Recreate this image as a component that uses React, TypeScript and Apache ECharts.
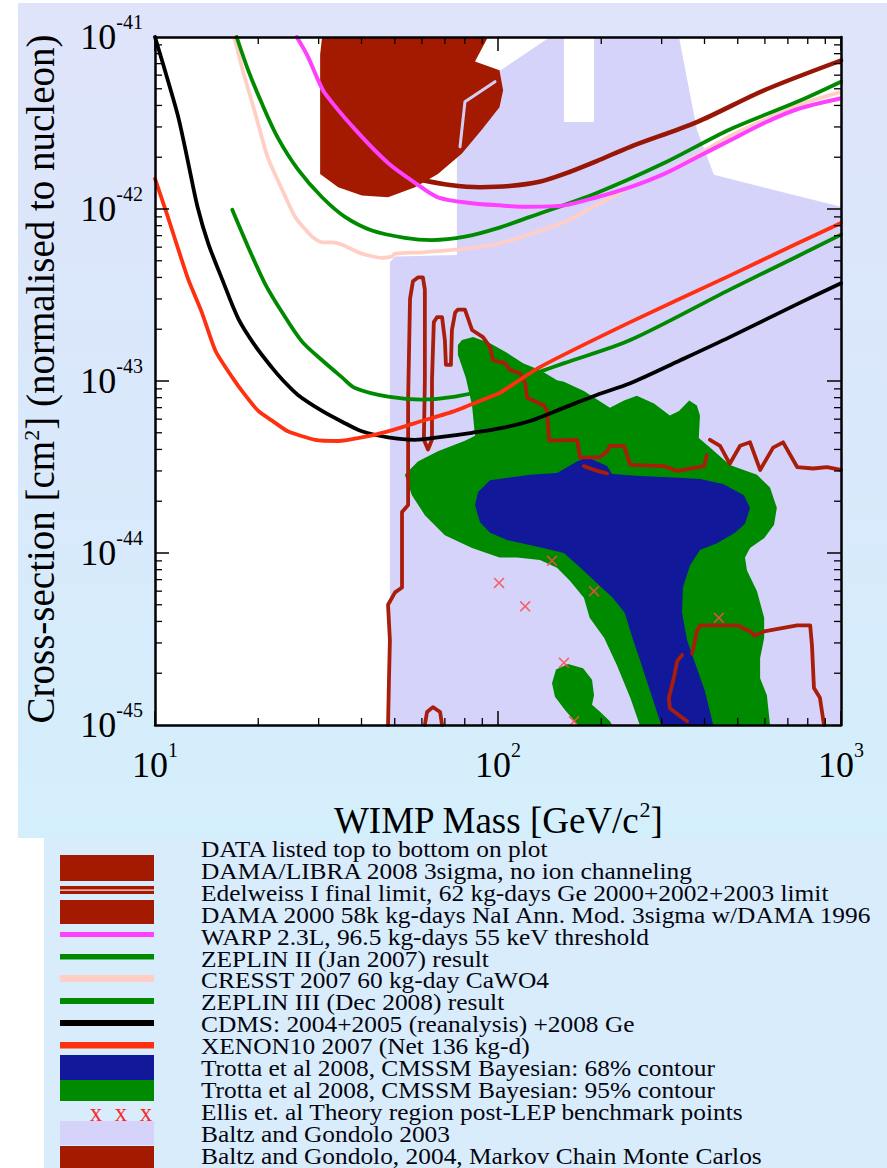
import React, { useEffect, useRef } from "react";
import * as echarts from "echarts";

type P = [number, number];

// ---------- axis ticks ----------
const yMajorTicks = [1e-45, 1e-44, 1e-43, 1e-42, 1e-41];
const xMinorTicks = [20, 30, 40, 50, 60, 70, 80, 90, 200, 300, 400, 500, 600, 700, 800, 900];
const yMinorTicks = [
  2e-45, 3e-45, 4e-45, 5e-45, 6e-45, 7e-45, 8e-45, 9e-45,
  2e-44, 3e-44, 4e-44, 5e-44, 6e-44, 7e-44, 8e-44, 9e-44,
  2e-43, 3e-43, 4e-43, 5e-43, 6e-43, 7e-43, 8e-43, 9e-43,
  2e-42, 3e-42, 4e-42, 5e-42, 6e-42, 7e-42, 8e-42, 9e-42,
];

// ---------- regions ----------
const baltz2003Region: P[] = [
  [48.4, 1e-45], [48.4, 4.9e-43], [50.1, 5.3e-43], [75.9, 5.4e-43], [75.9, 4.3e-42],
  [88.6, 5.6e-42], [99.4, 6.2e-42], [141.8, 1e-41], [155.7, 1e-41], [155.7, 3.2e-42],
  [190.5, 3.2e-42], [190.5, 1e-41], [337, 1e-41], [380, 2.9e-42], [426, 1.58e-42],
  [1000, 1.03e-42], [1000, 1e-45],
];
const damaLibraRegion: P[] = [
  [30.7, 1e-41], [93.5, 1e-41], [85.7, 7.2e-42], [101, 6.4e-42], [103.5, 4.9e-42],
  [101, 3.9e-42], [89.8, 2.9e-42], [78.5, 2.1e-42], [66.8, 1.6e-42], [57.3, 1.34e-42],
  [47.8, 1.17e-42], [40.1, 1.2e-42], [34.2, 1.34e-42], [30.3, 1.6e-42], [30.3, 7.9e-42],
];
const damaGapLine: P[] = [[98, 5.5e-42], [80.1, 4.2e-42], [77.5, 2.3e-42]];

const trotta95Region: P[] = [
  [76.4, 1.62e-43], [78.5, 1.73e-43], [84.6, 1.8e-43], [94.8, 1.66e-43], [106.2, 1.46e-43],
  [118.3, 1.27e-43], [132.5, 1.16e-43], [148.6, 1.01e-43], [155.7, 9.9e-44], [178, 8.75e-44],
  [212, 7.0e-44], [233, 7.7e-44], [254, 8.2e-44], [285, 7.4e-44], [317, 6.3e-44],
  [337, 6.7e-44], [361, 7.7e-44], [380, 7.2e-44], [388, 6.3e-44], [385, 4.67e-44],
  [415, 4.1e-44], [474, 3.25e-44], [569, 2.85e-44], [621, 2.4e-44], [650, 1.83e-44],
  [638, 1.46e-44], [597, 1.22e-44], [543, 1.07e-44], [525, 9.4e-45], [532, 7.9e-45],
  [569, 6.0e-45], [597, 4.2e-45], [597, 3.2e-45], [581, 2.45e-45], [581, 1.87e-45],
  [608, 1.49e-45], [621, 1e-45], [259, 1e-45], [243, 1.44e-45], [222, 2.23e-45],
  [204, 3.2e-45], [185, 4.2e-45], [178, 5.5e-45], [162, 6.9e-45], [148.6, 8.2e-45],
  [132.5, 9.1e-45], [113.6, 9.4e-45], [101, 9.4e-45], [84, 1.07e-44], [70, 1.27e-44],
  [61.2, 1.66e-44], [56.1, 2.17e-44], [53.5, 2.85e-44], [58.4, 3.4e-44], [66.8, 3.9e-44],
  [80.1, 4.5e-44], [85.7, 4.8e-44], [84, 7.2e-44], [80.6, 1.04e-43], [76.4, 1.42e-43],
];
const trotta95Island: P[] = [
  [143.7, 1.75e-45], [147.6, 2.1e-45], [160, 2.26e-45], [177, 2.14e-45], [188, 1.83e-45],
  [190.5, 1.49e-45], [188, 1.31e-45], [198, 1.2e-45], [212, 1.05e-45], [215, 1e-45],
  [171, 1e-45], [157, 1.22e-45], [146.6, 1.46e-45],
];
const trotta68Region: P[] = [
  [85.7, 1.9e-44], [87.5, 2.26e-44], [94.8, 2.65e-44], [124, 2.85e-44], [148.6, 2.92e-44],
  [170, 3.4e-44], [182, 3.6e-44], [208, 3.2e-44], [215, 2.88e-44], [259, 2.8e-44],
  [324, 2.75e-44], [388, 2.69e-44], [453, 2.52e-44], [521, 2.17e-44], [543, 1.83e-44],
  [525, 1.48e-44], [491, 1.31e-44], [435, 1.14e-44], [388, 1.04e-44], [363, 8.5e-45],
  [346, 6.3e-45], [344, 4.5e-45], [356, 3.1e-45], [380, 2.14e-45], [401, 1.58e-45],
  [424, 1e-45], [299, 1e-45], [277, 1.6e-45], [259, 2.4e-45], [248, 3.1e-45],
  [234, 4.5e-45], [216, 5.5e-45], [194, 6.7e-45], [173, 8.3e-45], [155.7, 1e-44],
  [132.5, 1.08e-44], [106.2, 1.19e-44], [94.8, 1.31e-44], [88.6, 1.51e-44],
];

// ---------- Baltz & Gondolo 2004 MCMC contour pieces ----------
const baltz2004A: P[] = [
  [47.8, 1e-45], [48.1, 1.83e-45], [48.4, 3.1e-45], [47.8, 5.0e-45], [50.1, 5.9e-45],
  [52.5, 6.3e-45], [52.5, 1.73e-44], [54.7, 1.9e-44], [54.7, 7.8e-44], [55.4, 3.0e-43],
  [56.5, 3.8e-43], [58.4, 4.0e-43], [60.4, 4.0e-43], [61.2, 3.4e-43], [61.2, 1.01e-43],
  [60.8, 4.55e-44], [62.5, 4.0e-44], [64.2, 4.55e-44], [64.2, 1.01e-43], [65.0, 2.2e-43],
  [66.4, 2.35e-43], [68.7, 2.35e-43], [70.0, 1.73e-43], [70.5, 1.24e-43], [72.9, 1.24e-43],
  [73.4, 1.98e-43], [75.0, 2.5e-43], [76.4, 2.6e-43], [80.1, 2.6e-43], [84.0, 1.98e-43],
  [90.4, 1.8e-43], [94.8, 1.58e-43], [96.6, 1.32e-43], [104.8, 1.27e-43], [108.4, 1.16e-43],
  [115.9, 1.11e-43], [120, 9.7e-44], [121.6, 8.0e-44], [136.2, 7.2e-44], [139, 6.7e-44],
  [140.9, 4.5e-44], [170, 4.55e-44], [173.4, 3.6e-44], [198, 3.6e-44], [208, 3.9e-44],
  [212, 4.2e-44], [233, 4.2e-44], [243, 3.25e-44], [305, 3.2e-44], [333, 3.0e-44],
  [399, 3.2e-44], [406, 3.7e-44],
];
const baltz2004B: P[] = [
  [415, 4.55e-44], [444, 4.2e-44], [474, 3.3e-44], [508, 4.2e-44], [543, 4.4e-44],
  [581, 3.04e-44], [634, 4.1e-44], [678, 4.4e-44], [745, 3.16e-44], [829, 3.1e-44],
  [910, 3.16e-44], [1000, 3.04e-44],
];
const baltz2004C: P[] = [[178, 3.2e-44], [195, 3.0e-44], [208, 2.9e-44]];
const baltz2004D: P[] = [
  [344, 2.55e-45], [333, 2.35e-45], [326, 1.9e-45], [315, 1.44e-45], [317, 1.25e-45],
  [337, 1.14e-45], [356, 1.05e-45],
];
const baltz2004E: P[] = [
  [368, 2.6e-45], [380, 3.5e-45], [388, 3.8e-45], [435, 3.8e-45], [497, 3.8e-45],
  [543, 3.5e-45], [561, 3.3e-45], [597, 3.5e-45], [745, 3.8e-45], [813, 3.8e-45],
  [823, 2.9e-45], [834, 1.64e-45], [868, 1.44e-45], [892, 1e-45],
];
const baltz2004G: P[] = [[61.2, 1e-45], [62.1, 1.19e-45], [64.6, 1.27e-45], [67.8, 1.19e-45], [68.7, 1e-45]];

// ---------- exclusion limits ----------
const edelweissLimit: P[] = [
  [59.3, 1.48e-42], [72.4, 1.38e-42], [88.6, 1.34e-42], [108, 1.36e-42], [132, 1.44e-42],
  [156, 1.6e-42], [194, 1.9e-42], [243, 2.3e-42], [380, 3.2e-42], [597, 4.9e-42], [1000, 7.3e-42],
];
const warpLimit: P[] = [
  [25.9, 1e-41], [27.9, 7.7e-42], [29.9, 5.6e-42], [31.3, 4.7e-42], [38.3, 2.9e-42],
  [47.8, 1.85e-42], [57.3, 1.42e-42], [66.8, 1.17e-42], [84, 1.08e-42], [101, 1.05e-42],
  [124, 1.03e-42], [156, 1.05e-42], [194, 1.17e-42], [243, 1.34e-42], [305, 1.6e-42],
  [380, 2.0e-42], [474, 2.5e-42], [597, 3.16e-42], [745, 3.8e-42], [1000, 4.4e-42],
];
const zeplin2Limit: P[] = [
  [17.3, 1e-41], [18.7, 6.4e-42], [20.5, 4.1e-42], [22.8, 2.6e-42], [26.1, 1.7e-42],
  [30.7, 1.17e-42], [35.8, 9.0e-43], [42.9, 7.5e-43], [53.5, 6.8e-43], [64.2, 6.6e-43],
  [80.1, 6.9e-43], [101, 7.8e-43], [124, 9.0e-43], [194, 1.24e-42], [305, 1.85e-42],
  [474, 2.9e-42], [745, 4.2e-42], [1000, 5.5e-42],
];
const cresstLimit: P[] = [
  [16.9, 1e-41], [17.1, 9.6e-42], [18.1, 6.2e-42], [19.6, 3.6e-42], [21.3, 2.0e-42],
  [23.5, 1.29e-42], [25.6, 9.0e-43], [28.7, 6.9e-43], [30.7, 6.4e-43], [32.8, 6.4e-43],
  [35.1, 6.2e-43], [40.1, 5.5e-43], [45.9, 5.2e-43], [49.1, 5.3e-43], [50.1, 5.5e-43],
  [60, 5.6e-43], [75, 5.8e-43], [101, 6.3e-43], [156, 8.4e-43], [243, 1.34e-42],
  [305, 1.6e-42], [474, 2.65e-42], [745, 4.0e-42], [1000, 4.8e-42],
];
const zeplin3Limit: P[] = [
  [16.8, 9.9e-43], [18.7, 6.0e-43], [20.9, 3.7e-43], [23.5, 2.5e-43], [26.8, 1.7e-43],
  [30.7, 1.32e-43], [35.1, 1.05e-43], [38.3, 9.1e-44], [47.8, 8.1e-44], [60, 7.8e-44],
  [75, 8.1e-44], [99, 9.2e-44], [132, 1.13e-43], [156, 1.27e-43], [243, 1.73e-43],
  [474, 3.4e-43], [745, 5.3e-43], [1000, 7.1e-43],
];
const cdmsLimit: P[] = [
  [10, 1e-41], [10.9, 5.6e-42], [11.7, 3.4e-42], [12.5, 1.85e-42], [13.3, 1.03e-42],
  [14.3, 6.3e-43], [15.7, 3.9e-43], [17.5, 2.3e-43], [19.6, 1.6e-43], [21.9, 1.2e-43],
  [23.6, 1.01e-43], [26.1, 8.3e-44], [30.7, 6.7e-44], [35.1, 5.8e-44], [40.1, 5.1e-44],
  [47.8, 4.7e-44], [57.3, 4.55e-44], [66.8, 4.7e-44], [84, 5.0e-44], [101, 5.3e-44],
  [124, 5.85e-44], [156, 7.0e-44], [194, 8.3e-44], [243, 9.7e-44], [340, 1.32e-43],
  [474, 1.8e-43], [745, 2.8e-43], [1000, 3.7e-43],
];
const xenon10Limit: P[] = [
  [10, 1.5e-42], [10.9, 9.0e-43], [11.7, 5.8e-43], [12.5, 3.9e-43], [13.7, 2.5e-43],
  [15.0, 1.5e-43], [16.8, 1.05e-43], [18.3, 8.3e-44], [20.0, 6.7e-44], [21.9, 5.9e-44],
  [24.4, 5.1e-44], [29.3, 4.55e-44], [34.2, 4.48e-44], [40.1, 4.7e-44], [47.8, 5.1e-44],
  [60, 5.85e-44], [75, 6.7e-44], [93.5, 8.0e-44], [101, 8.5e-44], [132, 1.2e-43],
  [243, 2.2e-43], [474, 4.1e-43], [745, 6.3e-43], [1000, 8.3e-43],
];

// ---------- benchmark points ----------
const ellisPoints: P[] = [
  [100.7, 6.7e-45], [120, 4.9e-45], [143.7, 9.0e-45], [190.5, 6.0e-45],
  [155.7, 2.3e-45], [166.6, 1.05e-45], [440.6, 4.2e-45],
];

// ---------- legend ----------
const legendLabels = [
  "DATA listed top to bottom on plot",
  "DAMA/LIBRA 2008 3sigma, no ion channeling",
  "Edelweiss I final limit, 62 kg-days Ge 2000+2002+2003 limit",
  "DAMA 2000 58k kg-days NaI Ann. Mod. 3sigma w/DAMA 1996",
  "WARP 2.3L, 96.5 kg-days 55 keV threshold",
  "ZEPLIN II (Jan 2007) result",
  "CRESST 2007 60 kg-day CaWO4",
  "ZEPLIN III (Dec 2008) result",
  "CDMS: 2004+2005 (reanalysis) +2008 Ge",
  "XENON10 2007 (Net 136 kg-d)",
  "Trotta et al 2008, CMSSM Bayesian: 68% contour",
  "Trotta et al 2008, CMSSM Bayesian: 95% contour",
  "Ellis et. al Theory region post-LEP benchmark points",
  "Baltz and Gondolo 2003",
  "Baltz and Gondolo, 2004, Markov Chain Monte Carlos",
];
const yTitle = "Cross-section [cm{s|2}] (normalised to nucleon)";
const xTitle = "WIMP Mass [GeV/c{s|2}]";

const SERIF = "'Liberation Serif', 'Times New Roman', serif";
const C = {
  darkRed: "#a31a00",
  edel: "#981606",
  mcmc: "#a81e0a",
  magenta: "#ff40ff",
  green: "#008a00",
  pink: "#ffcfc6",
  black: "#000000",
  red: "#ff3010",
  blue: "#11189a",
  lavender: "#d6d3fa",
  ellis: "#ff4a4a",
};

function polySeries(name: string, pts: P[], fill: string, z: number) {
  return {
    type: "custom",
    name,
    z,
    silent: true,
    clip: true,
    data: pts,
    renderItem: (params: any, api: any) => {
      if (params.dataIndex !== 0) return null;
      return {
        type: "polygon",
        shape: { points: pts.map((p) => api.coord(p)) },
        style: { fill, stroke: null },
      };
    },
  };
}

function lineSeries(name: string, pts: P[], color: string, width: number, z: number, smooth: number | boolean = 0.3) {
  return {
    type: "line",
    name,
    data: pts,
    z,
    silent: true,
    symbol: "none",
    showSymbol: false,
    smooth,
    clip: true,
    lineStyle: { color, width, cap: "round", join: "round" },
  };
}

const powLabel = (v: number) => `{b|10}{s|${Math.round(Math.log10(v))}}`;
const labelRich = {
  b: { fontSize: 36, fontFamily: SERIF, color: "#000", lineHeight: 50 },
  s: { fontSize: 20, fontFamily: SERIF, color: "#000", verticalAlign: "top", lineHeight: 22 },
};
const titleRich = { s: { fontSize: 22, fontFamily: SERIF, color: "#000", verticalAlign: "top", lineHeight: 20 } };

function axisBase(extra: any) {
  return {
    type: "log",
    logBase: 10,
    z: 30,
    axisLine: { show: true, onZero: false, lineStyle: { color: "#000", width: 2.5 } },
    axisTick: { show: true, inside: true, length: 14, lineStyle: { color: "#000", width: 1.5 } },
    splitLine: { show: false },
    minorTick: { show: false },
    minorSplitLine: { show: false },
    ...extra,
  };
}

function buildGraphic(yPix: number[]) {
  const els: any[] = [];
  const x0 = 60;
  const w = 94;
  const rect = (y: number, h: number, fill: string) =>
    els.push({ type: "rect", silent: true, shape: { x: x0, y, width: w, height: h }, style: { fill } });
  rect(855, 26, C.darkRed);
  rect(886, 8, C.darkRed);
  rect(889.4, 1.4, "#f3e6e6");
  rect(900, 24, C.darkRed);
  rect(932, 5, C.magenta);
  rect(954, 5.5, C.green);
  rect(975, 7, C.pink);
  rect(998, 6, C.green);
  rect(1020, 6, C.black);
  rect(1042, 6.5, C.red);
  rect(1055, 25, C.blue);
  rect(1080, 21, C.green);
  rect(1121, 24, C.lavender);
  rect(1146, 22, C.darkRed);
  [96, 121, 146].forEach((x) =>
    els.push({
      type: "text",
      silent: true,
      x,
      y: 1112,
      style: {
        text: "x",
        fontSize: 25,
        fontFamily: SERIF,
        fill: "#ff2a2a",
        textAlign: "center",
        align: "center",
        textVerticalAlign: "middle",
        verticalAlign: "middle",
      },
    })
  );
  legendLabels.forEach((t, i) =>
    els.push({
      type: "text",
      silent: true,
      x: 201,
      y: 849 + i * 21.9,
      scaleX: 1.105,
      style: {
        text: t,
        fontSize: 23,
        fontFamily: SERIF,
        fill: "#05050f",
        textAlign: "left",
        align: "left",
        textVerticalAlign: "middle",
        verticalAlign: "middle",
      },
    })
  );
  // y-axis title
  els.push({
    type: "text",
    silent: true,
    x: 40,
    y: 379,
    rotation: Math.PI / 2,
    style: {
      text: yTitle,
      rich: titleRich,
      fontSize: 39,
      fontFamily: SERIF,
      fill: "#000",
      textAlign: "center",
      align: "center",
      textVerticalAlign: "middle",
      verticalAlign: "middle",
    },
  });
  // y-axis tick labels, positioned through the y scale
  yMajorTicks.forEach((v, i) => {
    const py = yPix[i];
    if (typeof py !== "number" || !isFinite(py)) return;
    els.push({
      type: "text",
      silent: true,
      x: 143,
      y: py,
      style: {
        text: powLabel(v),
        rich: labelRich,
        fill: "#000",
        textAlign: "right",
        align: "right",
        textVerticalAlign: "middle",
        verticalAlign: "middle",
      },
    });
  });
  return els;
}

function buildOption(): any {
  return {
    animation: false,
    backgroundColor: "transparent",
    grid: {
      left: 155,
      top: 37,
      width: 686,
      height: 688,
      show: true,
      containLabel: false,
      outerBoundsMode: "none",
      backgroundColor: "#ffffff",
      borderColor: "#000",
      borderWidth: 0,
    },
    xAxis: [
      axisBase({
        min: 10,
        max: 1000,
        position: "bottom",
        axisLabel: { show: true, margin: 15, formatter: powLabel, rich: labelRich, showMinLabel: true, showMaxLabel: true },
        name: xTitle,
        nameLocation: "middle",
        nameGap: 73,
        nameTextStyle: { fontSize: 37, fontFamily: SERIF, color: "#000", lineHeight: 44, rich: titleRich },
      }),
      axisBase({ min: 10, max: 1000, position: "top", axisLabel: { show: false } }),
    ],
    yAxis: [
      axisBase({ min: 1e-45, max: 1e-41, position: "left", axisLabel: { show: false } }),
      axisBase({ min: 1e-45, max: 1e-41, position: "right", axisLabel: { show: false } }),
    ],
    series: [
      polySeries("Baltz and Gondolo 2003", baltz2003Region, C.lavender, 1),
      lineSeries("Edelweiss I", edelweissLimit, C.edel, 4.5, 2),
      polySeries("DAMA/LIBRA 2008", damaLibraRegion, C.darkRed, 3),
      lineSeries("DAMA gap", damaGapLine, "#d2cdf6", 3, 4, false),
      polySeries("Trotta 95%", trotta95Region, C.green, 5),
      polySeries("Trotta 95% island", trotta95Island, C.green, 5),
      polySeries("Trotta 68%", trotta68Region, C.blue, 6),
      lineSeries("Baltz and Gondolo 2004 A", baltz2004A, C.mcmc, 3.8, 7, false),
      lineSeries("Baltz and Gondolo 2004 B", baltz2004B, C.mcmc, 3.8, 7, false),
      lineSeries("Baltz and Gondolo 2004 C", baltz2004C, C.mcmc, 3.8, 7, false),
      lineSeries("Baltz and Gondolo 2004 D", baltz2004D, C.mcmc, 3.8, 7, false),
      lineSeries("Baltz and Gondolo 2004 E", baltz2004E, C.mcmc, 3.8, 7, false),
      lineSeries("Baltz and Gondolo 2004 G", baltz2004G, C.mcmc, 3.8, 7, false),
      lineSeries("CRESST 2007", cresstLimit, C.pink, 3.8, 8, 0.2),
      lineSeries("ZEPLIN II", zeplin2Limit, C.green, 3.8, 8),
      lineSeries("WARP 2.3L", warpLimit, C.magenta, 4, 8),
      lineSeries("ZEPLIN III", zeplin3Limit, C.green, 3.8, 8),
      lineSeries("CDMS", cdmsLimit, C.black, 3.8, 8),
      lineSeries("XENON10", xenon10Limit, C.red, 3.8, 8, 0.2),
      {
        type: "scatter",
        name: "Ellis benchmark points",
        data: ellisPoints,
        z: 9,
        silent: true,
        symbol: "path://M1,0 L5,4 L9,0 L10,1 L6,5 L10,9 L9,10 L5,6 L1,10 L0,9 L4,5 L0,1 Z",
        symbolSize: 11,
        itemStyle: { color: C.ellis, opacity: 0.85 },
      },
      {
        type: "custom",
        name: "x minor ticks",
        z: 31,
        silent: true,
        clip: false,
        data: xMinorTicks.map((v) => [v, 1e-43]),
        renderItem: (params: any, api: any) => {
          const cs = params.coordSys;
          const px = api.coord([api.value(0), 1e-43])[0];
          const st = { stroke: "#000", lineWidth: 1.3 };
          return {
            type: "group",
            children: [
              { type: "line", shape: { x1: px, y1: cs.y + cs.height, x2: px, y2: cs.y + cs.height - 7 }, style: st },
              { type: "line", shape: { x1: px, y1: cs.y, x2: px, y2: cs.y + 7 }, style: st },
            ],
          };
        },
      },
      {
        type: "custom",
        name: "y minor ticks",
        z: 31,
        silent: true,
        clip: false,
        data: yMinorTicks.map((v) => [100, v]),
        renderItem: (params: any, api: any) => {
          const cs = params.coordSys;
          const py = api.coord([100, api.value(1)])[1];
          const st = { stroke: "#000", lineWidth: 1.3 };
          return {
            type: "group",
            children: [
              { type: "line", shape: { x1: cs.x, y1: py, x2: cs.x + 7, y2: py }, style: st },
              { type: "line", shape: { x1: cs.x + cs.width, y1: py, x2: cs.x + cs.width - 7, y2: py }, style: st },
            ],
          };
        },
      },
    ],
  };
}

export default function App() {
  const ref = useRef<HTMLDivElement>(null);
  useEffect(() => {
    if (!ref.current) return;
    const chart = echarts.init(ref.current, null, { renderer: "svg" });
    chart.setOption(buildOption());
    const yPix = yMajorTicks.map((v) => chart.convertToPixel({ yAxisIndex: 0 }, v) as number);
    chart.setOption({ graphic: buildGraphic(yPix) });
    return () => chart.dispose();
  }, []);
  return (
    <div style={{ position: "absolute", left: 0, top: 0, width: 887, height: 1168, background: "#ffffff", overflow: "hidden" }}>
      <div
        style={{
          position: "absolute",
          left: 18,
          top: 3,
          width: 869,
          height: 835,
          background: "linear-gradient(to bottom, #dfe4fa 0%, #d9e9fb 55%, #d4effc 100%)",
        }}
      />
      <div style={{ position: "absolute", left: 44, top: 838, width: 843, height: 330, background: "#d8ecfb" }} />
      <div ref={ref} style={{ position: "absolute", left: 0, top: 0, width: 887, height: 1168 }} />
    </div>
  );
}
